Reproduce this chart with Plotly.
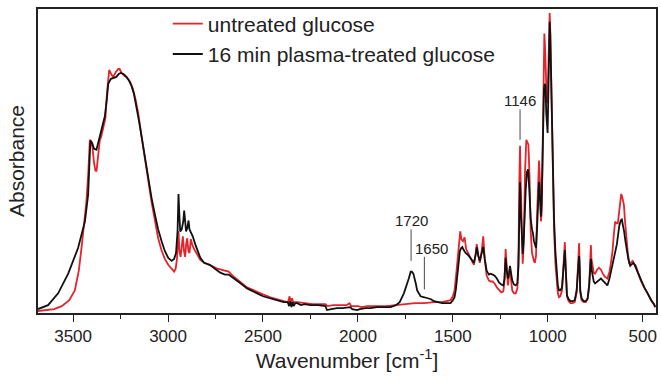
import plotly.graph_objects as go

# ---- data (absorbance in arbitrary units) ----
black_wn = [3685, 3632, 3579, 3526, 3474, 3438, 3421, 3415, 3409, 3400, 3390, 3377, 3365, 3359, 3345, 3333, 3322, 3315,
            3301, 3285, 3272, 3260, 3249, 3235, 3219, 3205, 3193, 3180, 3166, 3153, 3140, 3122, 3104, 3087, 3069, 3052,
            3034, 3017, 2999, 2981, 2968, 2958, 2950, 2945, 2940, 2936, 2928, 2920, 2915, 2910, 2905, 2898, 2892, 2887,
            2880, 2870, 2857, 2845, 2830, 2810, 2795, 2780, 2760, 2740, 2725, 2700, 2681, 2660, 2637, 2610, 2584, 2560,
            2531, 2500, 2461, 2430, 2391, 2370, 2362, 2356, 2350, 2344, 2338, 2330, 2320, 2300, 2280, 2250, 2210, 2171,
            2163, 2140, 2110, 2080, 2050, 2040, 2030, 2004, 1990, 1960, 1934, 1900, 1860, 1828, 1800, 1780, 1758, 1745,
            1732, 1722, 1716, 1708, 1702, 1694, 1688, 1678, 1670, 1650, 1635, 1615, 1600, 1578, 1556, 1530, 1512, 1500,
            1491, 1484, 1477, 1470, 1463, 1456, 1450, 1443, 1433, 1420, 1407, 1395, 1389, 1380, 1374, 1366, 1358, 1348,
            1340, 1332, 1322, 1310, 1301, 1290, 1280, 1268, 1257, 1245, 1234, 1228, 1222, 1216, 1210, 1204, 1199, 1193,
            1187, 1178, 1169, 1160, 1154, 1150, 1146, 1142, 1137, 1132, 1126, 1120, 1116, 1110, 1104, 1098, 1090, 1083,
            1078, 1073, 1068, 1062, 1056, 1050, 1046, 1041, 1036, 1032, 1028, 1024, 1020, 1016, 1012, 1008, 1004, 1001,
            997, 993, 990, 987, 984, 979, 973, 967, 960, 953, 947, 941, 934, 925, 918, 913, 910, 907, 903, 899, 890,
            880, 870, 858, 848, 842, 838, 835, 832, 829, 822, 810, 800, 790, 782, 776, 773, 770, 764, 758, 751, 740,
            730, 720, 710, 700, 686, 675, 668, 659, 648, 636, 624, 616, 610, 604, 598, 591, 584, 575, 566, 558, 550,
            543, 536, 523, 510, 492, 474, 456, 440, 434]
black_abs = [4, 8, 20, 40, 66, 93, 120, 153, 175, 173, 167, 166, 175, 180, 190, 200, 218, 233,
             238, 239, 240, 243, 244, 243, 240, 236, 231, 223, 210, 195, 180, 158, 136, 117, 100, 85,
             73, 63, 56, 53, 55, 61, 83, 121, 98, 83, 85, 93, 104, 88, 83, 87, 94, 85,
             82, 78, 70, 63, 56, 51, 50, 49, 46, 43, 41, 39, 39, 36, 33, 29, 25, 23,
             20, 17, 15, 13, 11, 11, 7, 12, 6, 11, 7, 10, 10, 8, 9, 8, 8, 7,
             3, 4, 5, 5, 6, 6, 4, 3, 4, 5, 5, 6, 6, 6, 8, 11, 20, 27,
             35, 42, 42, 40, 36, 29, 23, 19, 17, 16, 15, 14, 12, 11, 10, 10, 10, 13,
             16, 24, 36, 51, 63, 66, 67, 64, 61, 59, 56, 53, 51, 59, 67, 58, 53, 61,
             67, 55, 43, 39, 40, 39, 38, 35, 31, 29, 28, 35, 56, 43, 35, 41, 48, 40,
             33, 29, 28, 30, 48, 98, 133, 103, 73, 60, 78, 113, 126, 143, 146, 128, 96, 85,
             81, 73, 70, 66, 88, 123, 133, 118, 98, 113, 153, 193, 228, 233, 231, 203, 185, 183,
             223, 273, 296, 283, 253, 216, 153, 96, 63, 40, 28, 23, 23, 26, 43, 60, 64, 50, 30, 18, 14,
             12, 12, 13, 23, 40, 55, 58, 45, 23, 15, 12, 12, 15, 28, 45, 55, 45, 36, 32, 30, 32,
             34, 35, 33, 31, 28, 35, 42, 50, 60, 70, 88, 94, 95, 90, 83, 73, 63, 54, 48, 50, 51,
             49, 46, 39, 33, 26, 20, 13, 9, 6]

red_wn = [3685, 3650, 3600, 3560, 3520, 3491, 3470, 3456, 3443, 3430, 3420, 3412, 3406, 3398, 3390, 3383, 3377, 3370,
          3360, 3351, 3340, 3330, 3322, 3315, 3310, 3300, 3289, 3275, 3262, 3255, 3245, 3230, 3215, 3200, 3185, 3170,
          3157, 3140, 3122, 3105, 3087, 3070, 3052, 3035, 3017, 2999, 2981, 2968, 2960, 2953, 2945, 2940, 2934, 2928,
          2922, 2916, 2910, 2904, 2899, 2893, 2887, 2880, 2872, 2857, 2845, 2830, 2810, 2795, 2780, 2760, 2740, 2720,
          2700, 2681, 2660, 2637, 2610, 2584, 2560, 2531, 2500, 2461, 2430, 2391, 2368, 2360, 2355, 2348, 2340, 2320,
          2280, 2240, 2200, 2171, 2160, 2130, 2100, 2060, 2045, 2035, 2000, 1980, 1950, 1900, 1850, 1800, 1750, 1700,
          1650, 1600, 1556, 1512, 1500, 1491, 1483, 1475, 1468, 1461, 1455, 1447, 1438, 1430, 1420, 1407, 1395, 1389,
          1380, 1374, 1366, 1358, 1348, 1340, 1332, 1322, 1310, 1300, 1290, 1280, 1268, 1257, 1245, 1234, 1228, 1222,
          1216, 1210, 1204, 1199, 1193, 1187, 1178, 1169, 1160, 1154, 1150, 1146, 1142, 1137, 1132, 1126, 1120, 1113,
          1108, 1102, 1096, 1090, 1083, 1078, 1073, 1068, 1062, 1056, 1050, 1046, 1041, 1036, 1032, 1027, 1022, 1018,
          1014, 1010, 1005, 1001, 997, 993, 990, 987, 984, 979, 973, 967, 960, 953, 947, 941, 934, 925, 918, 913, 910,
          907, 903, 899, 890, 880, 870, 858, 848, 842, 838, 835, 832, 829, 822, 810, 800, 790, 782, 776, 773, 770,
          764, 758, 751, 740, 730, 720, 710, 700, 686, 675, 668, 659, 652, 645, 638, 631, 624, 617, 613, 608, 599,
          593, 587, 578, 570, 562, 553, 545, 536, 523, 510, 492, 474, 456, 440, 434]
red_abs = [2, 3, 4, 7, 13, 23, 43, 66, 88, 113, 143, 176, 175, 168, 153, 145, 144, 155,
           175, 180, 188, 198, 223, 241, 247, 243, 240, 245, 248, 248, 244, 241, 239, 235, 228, 216,
           203, 180, 156, 133, 113, 95, 76, 64, 55, 49, 45, 42, 45, 55, 83, 63, 57, 68,
           78, 63, 57, 71, 76, 63, 61, 75, 69, 63, 59, 54, 51, 50, 49, 47, 45, 44,
           43, 42, 38, 34, 30, 26, 24, 21, 19, 16, 14, 12, 11, 17, 11, 15, 11, 11,
           10, 9, 9, 9, 7, 8, 8, 8, 10, 7, 7, 6, 7, 7, 7, 8, 9, 10,
           10, 11, 11, 13, 17, 23, 38, 55, 73, 83, 75, 73, 77, 65, 61, 56, 51, 49,
           60, 70, 59, 51, 63, 78, 55, 38, 33, 32, 32, 30, 26, 23, 21, 22, 33, 65,
           41, 28, 38, 46, 33, 23, 20, 20, 25, 63, 133, 170, 128, 68, 50, 73, 143, 176,
           173, 171, 138, 83, 61, 55, 53, 51, 58, 103, 148, 155, 133, 93, 103, 193, 258, 284,
           268, 233, 213, 218, 263, 298, 305, 288, 253, 208, 143, 85, 51, 31, 20, 16, 17, 23, 45, 66, 72,
           55, 30, 17, 12, 10, 10, 11, 21, 43, 62, 71, 48, 21, 13, 11, 11, 14, 28, 55, 69, 55,
           45, 41, 40, 44, 46, 44, 40, 37, 35, 42, 50, 63, 80, 93, 91, 91, 103, 118, 121, 118, 110,
           93, 76, 60, 50, 51, 53, 50, 48, 40, 33, 26, 20, 13, 9, 6]

series_names = ["untreated glucose", "16 min plasma-treated glucose"]
series_colors = ["#e3242b", "#111111"]

peak_labels = ["1720", "1650", "1146"]
peak_wn = [1720, 1650, 1146]
peak_line_bottom = [53, 24, 176]
peak_line_top = [85, 57, 207]

x_ticks = [3500, 3000, 2500, 2000, 1500, 1000, 500]

FONT = "Liberation Sans, Arial, sans-serif"

fig = go.Figure()
fig.add_trace(go.Scatter(x=red_wn, y=red_abs, mode="lines", name=series_names[0],
                         line=dict(color=series_colors[0], width=1.8)))
fig.add_trace(go.Scatter(x=black_wn, y=black_abs, mode="lines", name=series_names[1],
                         line=dict(color=series_colors[1], width=1.8)))

xshifts = [0, 7, 0]
for lab, wn, yb, yt, xs in zip(peak_labels, peak_wn, peak_line_bottom, peak_line_top, xshifts):
    fig.add_shape(type="line", x0=wn, x1=wn, y0=yb, y1=yt, xref="x", yref="y",
                  line=dict(color="#333333", width=0.9))
    fig.add_annotation(x=wn, y=yt, text=lab, showarrow=False, yanchor="bottom",
                       xshift=xs, yshift=-2, font=dict(family=FONT, size=15, color="#222222"))

fig.update_layout(
    width=661, height=381,
    margin=dict(l=38, r=5, t=4, b=68),
    paper_bgcolor="white", plot_bgcolor="white",
    font=dict(family=FONT, color="#222222"),
    showlegend=True,
    legend=dict(x=0.21, y=1.018, xanchor="left", yanchor="top",
                font=dict(family=FONT, size=21, color="#222222"),
                bgcolor="rgba(0,0,0,0)", borderwidth=0, tracegroupgap=0),
)
fig.update_xaxes(
    range=[3685, 430], tickvals=x_ticks, ticktext=[str(v) for v in x_ticks],
    ticks="outside", ticklen=7, tickwidth=1.2, tickcolor="#222222",
    minor=dict(dtick=250, tick0=0, ticks="outside", ticklen=4, tickwidth=1.2, tickcolor="#222222"),
    showline=True, linecolor="#222222", linewidth=1.5, mirror=True,
    showgrid=False, zeroline=False,
    tickfont=dict(family=FONT, size=17, color="#222222"),
    title=dict(text="Wavenumber [cm<sup>-1</sup>]", font=dict(family=FONT, size=21, color="#222222"), standoff=6),
)
fig.update_yaxes(
    range=[0, 309], showticklabels=False, ticks="",
    showline=True, linecolor="#222222", linewidth=1.5, mirror=True,
    showgrid=False, zeroline=False,
    title=dict(text="Absorbance", font=dict(family=FONT, size=21, color="#222222"), standoff=6),
)

fig.write_html("out.html")
